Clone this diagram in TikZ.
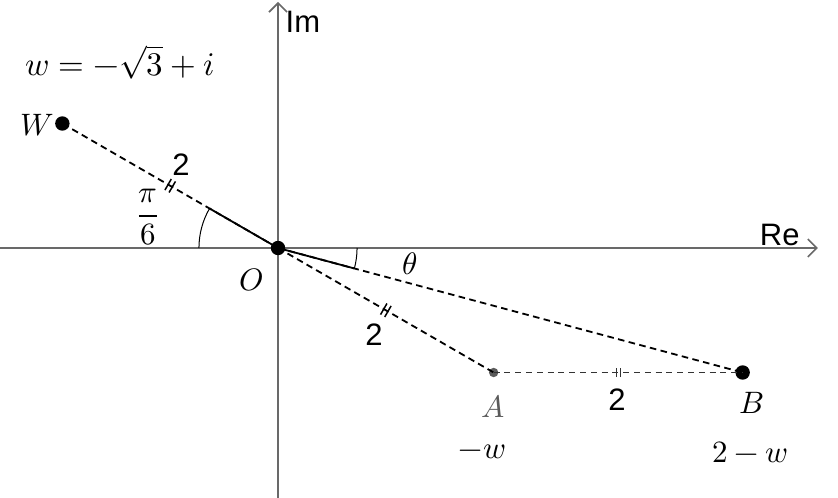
\documentclass[tikz,border=0pt]{standalone}
\usepackage{amsmath}
\usepackage{unicode-math}
\setmathfont{Latin Modern Math}
\newfontfamily\arialf{Liberation Sans}
\usetikzlibrary{arrows.meta}
\definecolor{axgray}{RGB}{105,105,105}
\definecolor{agray}{RGB}{90,90,90}
\tikzset{
  axis/.style={draw=axgray, line width=1pt, -{Straight Barb[length=4.5pt,width=9pt,line width=0.8pt]}},
  dline/.style={dash pattern=on 3.3pt off 2.2pt, line width=0.9pt},
  thinline/.style={dash pattern=on 3pt off 2.4pt, line width=0.55pt, draw=black!80},
  dot/.style={circle, fill=black, inner sep=0pt, minimum size=7.2pt},
  smalldot/.style={circle, fill=agray, inner sep=0pt, minimum size=4.7pt},
  mlabel/.style={font=\fontsize{15.5}{18}\selectfont, inner sep=0pt},
  slabel/.style={font=\arialf\fontsize{15.5}{18}\selectfont, inner sep=0pt},
  dtick/.pic={\draw[solid, line width=0.75pt] (-1.2pt,-3.2pt) -- (-1.2pt,3.2pt) (1.2pt,-3.2pt) -- (1.2pt,3.2pt);},
  stick/.pic={\draw[solid, line width=0.6pt] (-1pt,-2.3pt) -- (-1pt,2.3pt) (1pt,-2.3pt) -- (1pt,2.3pt);}
}
\begin{document}
\begin{tikzpicture}[x=62.25pt,y=62.25pt]
\useasboundingbox (-2.233,-2.008) rectangle (4.498,1.992);
% axes
\coordinate (xl) at (-2.233,0);
\coordinate (xr) at (4.337,0);
\coordinate (yb) at (0,-2.008);
\coordinate (yt) at (0,1.976);
\draw[axis] (xl) -- (xr);
\draw[axis] (yb) -- (yt);
% points
\node[dot] (O) at (0,0) {};
\node[dot] (W) at (-1.7321,1) {};
\node[smalldot] (A) at (1.7321,-1) {};
\node[dot] (B) at (3.7321,-1) {};
% segments
\draw[dline] (O.center) -- (W.center) pic[pos=0.5,sloped]{dtick};
\draw[dline] (O.center) -- (A.center) pic[pos=0.5,sloped]{dtick};
\draw[dline] (O.center) -- (B.center);
\draw[thinline] (A.center) -- (B.center) pic[pos=0.5,sloped]{stick};
% angles
\coordinate (wa) at (150:0.635);
\coordinate (ba) at (-15:0.635);
\draw[line width=0.9pt] (O.center) -- (wa);
\draw[line width=0.9pt] (O.center) -- (ba);
\draw[line width=0.5pt] (180:0.635) arc[start angle=180,end angle=150,radius=0.635];
\draw[line width=0.5pt] (0:0.635) arc[start angle=0,end angle=-15,radius=0.635];
% labels
\node[slabel] (im) at (0.2,1.815) {Im};
\node[slabel] (re) at (4.03,0.104) {Re};
\node[mlabel, font=\fontsize{16.5}{19}\selectfont] (eq) at (-1.265,1.49) {$w=-\sqrt{3}+i$};
\node[mlabel] (Wl) at (-1.936,0.988) {$W$};
\node[mlabel] (Ol) at (-0.217,-0.257) {$O$};
\node[mlabel] (pi6) at (-1.044,0.245) {$\dfrac{\pi}{6}$};
\node[mlabel] (th) at (1.06,-0.13) {$\theta$};
\node[slabel] (d1) at (-0.779,0.667) {2};
\node[slabel] (d2) at (0.771,-0.699) {2};
\node[slabel] (d3) at (2.723,-1.221) {2};
\node[mlabel, text=agray] (Al) at (1.727,-1.269) {$A$};
\node[mlabel] (mw) at (1.64,-1.639) {$-w$};
\node[mlabel] (Bl) at (3.807,-1.245) {$B$};
\node[mlabel] (tw) at (3.79,-1.639) {$2-w$};
\end{tikzpicture}
\end{document}
